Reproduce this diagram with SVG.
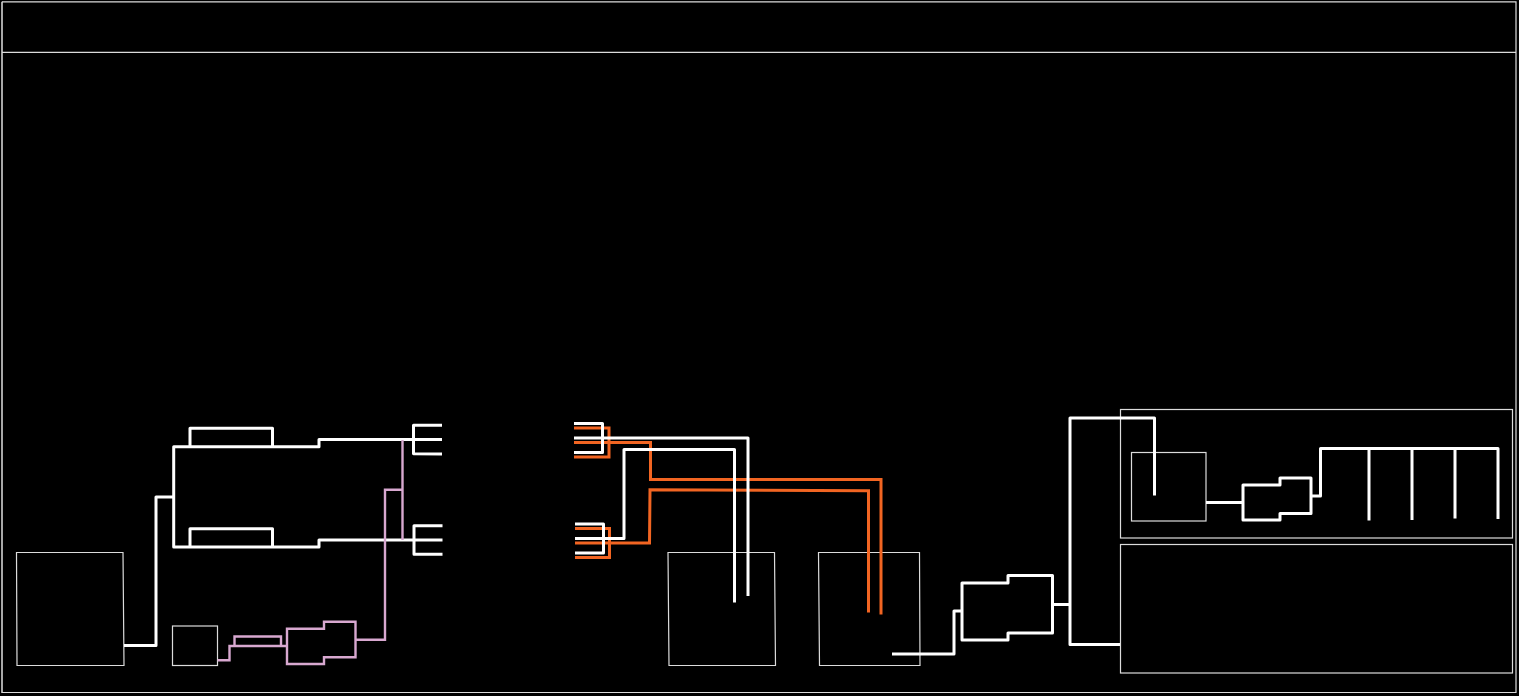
<svg xmlns="http://www.w3.org/2000/svg" width="1519" height="696" viewBox="0 0 1519 696">
<style>
.box{fill:none;stroke:#dcdcdc;stroke-width:1.200}
.w{fill:none;stroke:#fff;stroke-width:3;stroke-linejoin:round;stroke-linecap:butt}
.o{fill:none;stroke:#f26522;stroke-width:3}
.p{fill:none;stroke:#d8a8d0;stroke-width:2.400}
</style>
<rect width="1519" height="696" fill="#000"/>
<g id="frame"><path d="M2 1.800V693" fill="none" stroke="#a8a8a8" stroke-width="2"/><path class="box" d="M2 1.800H1516V692.500H2"/><line class="box" x1="2" y1="52.300" x2="1516" y2="52.300"/></g>
<g id="node-left-large"><path class="box" d="M16.500 552.500H123L124 665.500H17Z"/></g>
<g id="node-left-small"><rect class="box" x="172.500" y="626" width="45" height="39.500"/></g>
<g id="node-middle-1"><path class="box" d="M668 552.500H774.500L775.500 665.500H669Z"/></g>
<g id="node-middle-2"><path class="box" d="M818.500 552.500H919.500L920 665.500H819.500Z"/></g>
<g id="node-panel-top"><rect class="box" x="1120.500" y="409.500" width="392" height="128.500"/></g>
<g id="node-panel-bottom"><rect class="box" x="1120.500" y="544.500" width="392" height="128.500"/></g>
<g id="node-inner"><rect class="box" x="1131.500" y="452.500" width="74.500" height="68.500"/></g>
<g id="connectors">
<path class="w" d="M124 645.500H156V497H173.500"/>
<path class="w" d="M442 439.500H319V446.700H173.700V547H319V540H442.500"/>
<path class="w" d="M190 446.700V428.300H272.500V446.700"/>
<path class="w" d="M190 547V528.700H272.500V547"/>
<path class="w" d="M442 425.300H413.500V453.700L442 454"/>
<path class="w" d="M442.500 525.700H414V554.300H442.500"/>
<path class="p" d="M217.500 660.300H229.500V646H287"/>
<path class="p" d="M234.500 646V636.500H281V646"/>
<path class="p" d="M287 628.700H324V621.700H355.500V657.300H324V664H287Z"/>
<path class="p" d="M355.500 639.700H385V489.700H402.500"/>
<path class="p" d="M402.500 440V540"/>
<path class="o" d="M574 428H609V457H574"/>
<path class="o" d="M574 442.500H650.500V479.500H881V614.500"/>
<path class="o" d="M575 528.500H609.500V557.500H575"/>
<path class="o" d="M575 543H649.500L650 489.700L868.500 490.700V612.500"/>
<path class="w" d="M574 423.500H602.500V452.500H574"/>
<path class="w" d="M574 438H748V596"/>
<path class="w" d="M575 524H603.500V553H575"/>
<path class="w" d="M575 538.500H624V449.500H734.500V602.500"/>
<path class="w" d="M892 654H954V611H962"/>
<path class="w" d="M962 583H1008V575.500H1052.500V633H1008V640H962Z"/>
<path class="w" d="M1052.500 604.500H1070"/>
<path class="w" d="M1120 644.500H1070V418H1154.500V495.500"/>
<path class="w" d="M1206 502.500H1243"/>
<path class="w" d="M1243 485H1280V478H1311V513.500H1280V520H1243Z"/>
<path class="w" d="M1311 496H1320.500V448.500H1498V519"/>
<path class="w" d="M1369 448.500V520.500M1412 448.500V520M1455 448.500V518.500"/>
</g>
</svg>
